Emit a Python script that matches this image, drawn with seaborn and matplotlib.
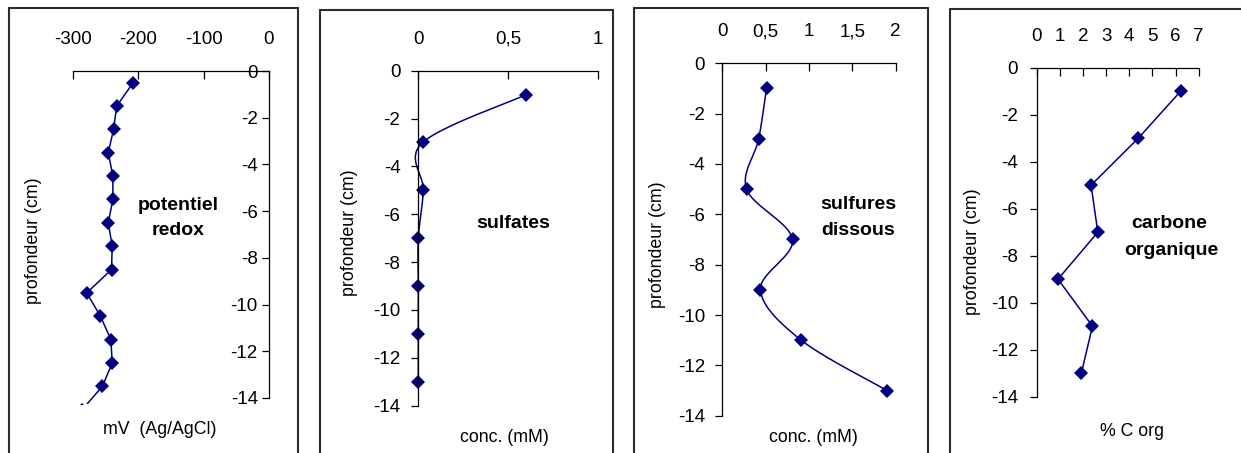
import numpy as np
import matplotlib
matplotlib.use("Agg")
import matplotlib.pyplot as plt
from matplotlib.lines import Line2D
import seaborn as sns

# ---------------- data ----------------
depth_ticks = [0, -2, -4, -6, -8, -10, -12, -14]
depth_ticklabels = ["0", "-2", "-4", "-6", "-8", "-10", "-12", "-14"]

redox_depth = [-0.5, -1.5, -2.5, -3.5, -4.5, -5.5, -6.5, -7.5, -8.5, -9.5, -10.5, -11.5, -12.5, -13.5, -14.5]
redox_mv = [-208, -233, -238, -246, -239, -239, -246, -240, -241, -279, -258, -242, -240, -255, -286]
redox_xticks = [-300, -200, -100, 0]
redox_xticklabels = ["-300", "-200", "-100", "0"]

sulfate_depth = [-1, -3, -5, -7, -9, -11, -13]
sulfate_conc = [0.60, 0.024, 0.028, 0.0, 0.0, 0.0, 0.0]
sulfate_xticks = [0, 0.5, 1]
sulfate_xticklabels = ["0", "0,5", "1"]

sulfide_depth = [-1, -3, -5, -7, -9, -11, -13]
sulfide_conc = [0.51, 0.42, 0.28, 0.81, 0.44, 0.91, 1.90]
sulfide_xticks = [0, 0.5, 1, 1.5, 2]
sulfide_xticklabels = ["0", "0,5", "1", "1,5", "2"]

corg_depth = [-1, -3, -5, -7, -9, -11, -13]
corg_pct = [6.22, 4.39, 2.35, 2.64, 0.92, 2.41, 1.93]
corg_xticks = [0, 1, 2, 3, 4, 5, 6, 7]
corg_xticklabels = ["0", "1", "2", "3", "4", "5", "6", "7"]

# ---------------- style ----------------
sns.set_theme(style="white")
plt.rcParams["font.family"] = ["Liberation Sans", "DejaVu Sans"]
plt.rcParams["axes.unicode_minus"] = False

W, H = 1241, 453
fig = plt.figure(figsize=(W / 100, H / 100), dpi=100)
fig.patch.set_facecolor("white")

NAVY = "#000080"
FS = 13.5
LFS = 12.8


def fx(px):
    return px / W


def fy(py):
    return 1 - py / H


def add_axes(x0, x1, xv0, xv1, y0, y14, ybot):
    """x0/x1: pixel of xlim ends; y0: pixel of depth 0; y14: pixel of depth -14."""
    ppc = (y14 - y0) / 14.0
    ybottom_px = y0 + (-ybot) * ppc
    ax = fig.add_axes([fx(x0), fy(ybottom_px), (x1 - x0) / W, (ybottom_px - y0) / H])
    ax.set_xlim(xv0, xv1)
    ax.set_ylim(ybot, 0)
    return ax


def style_axes(ax, xticks, xticklabels, ypad):
    ax.set_facecolor("none")
    for s in ["bottom", "right"]:
        ax.spines[s].set_visible(False)
    ax.spines["left"].set_position(("data", 0))
    ax.spines["left"].set_bounds(-14, 0)
    for s in ["left", "top"]:
        ax.spines[s].set_visible(True)
        ax.spines[s].set_color("black")
        ax.spines[s].set_linewidth(0.9)
    ax.xaxis.tick_top()
    ax.set_xticks(xticks)
    ax.set_xticklabels(xticklabels)
    ax.set_yticks(depth_ticks)
    ax.set_yticklabels(depth_ticklabels)
    ax.tick_params(axis="x", direction="in", length=5.5, width=0.9, pad=16.5,
                   top=True, bottom=False, labeltop=True, labelbottom=False,
                   labelsize=FS, colors="black")
    ax.tick_params(axis="y", direction="out", length=4.7, width=0.9, pad=ypad,
                   left=True, right=False, labelleft=True, labelright=False,
                   labelsize=FS, colors="black")
    ax.set_xlabel("")
    ax.set_ylabel("")
    ax.grid(False)


def catmull(xs, ys, sx, sy, n=40):
    P = np.column_stack([np.asarray(xs, float) * sx, np.asarray(ys, float) * sy])
    out = []
    for i in range(len(P) - 1):
        p0 = P[i - 1] if i > 0 else P[i]
        p1, p2 = P[i], P[i + 1]
        p3 = P[i + 2] if i + 2 < len(P) else P[i + 1]
        c1 = p1 + (p2 - p0) / 6.0
        c2 = p2 - (p3 - p1) / 6.0
        t = np.linspace(0, 1, n)[:, None]
        seg = (1 - t) ** 3 * p1 + 3 * (1 - t) ** 2 * t * c1 + 3 * (1 - t) * t ** 2 * c2 + t ** 3 * p2
        out.append(seg if i == 0 else seg[1:])
    S = np.vstack(out)
    return S[:, 0] / sx, S[:, 1] / sy


MS = 7.2

# ---------------- panel 1 : redox ----------------
ax1 = add_axes(73, 269, -300, 0, 71, 398, -14.25)
sns.lineplot(x=redox_mv, y=redox_depth, sort=False, estimator=None, ax=ax1,
             color=NAVY, lw=1.1, marker="D", markersize=MS, markeredgewidth=0)
style_axes(ax1, redox_xticks, redox_xticklabels, 3.4)

# ---------------- panel 2 : sulfates ----------------
ax2 = add_axes(418.3, 598.3, 0, 1, 70.7, 405.7, -14)
sx, sy = 180.0, (405.7 - 70.7) / 14
cx, cy = catmull(sulfate_conc, sulfate_depth, sx, sy)
sns.lineplot(x=cx, y=cy, sort=False, estimator=None, ax=ax2, color=NAVY, lw=1.1)
for ln in ax2.lines:
    ln.set_clip_on(False)
ax2.plot(sulfate_conc, sulfate_depth, ls="none", marker="D", ms=MS, mew=0, color=NAVY, clip_on=False)
style_axes(ax2, sulfate_xticks, sulfate_xticklabels, 8.2)

# ---------------- panel 3 : sulfures ----------------
ax3 = add_axes(722.3, 895.7, 0, 2, 63.3, 415.7, -14)
sx, sy = (895.7 - 722.3) / 2, (415.7 - 63.3) / 14
cx, cy = catmull(sulfide_conc, sulfide_depth, sx, sy)
sns.lineplot(x=cx, y=cy, sort=False, estimator=None, ax=ax3, color=NAVY, lw=1.1)
ax3.plot(sulfide_conc, sulfide_depth, ls="none", marker="D", ms=MS, mew=0, color=NAVY, clip_on=False)
style_axes(ax3, sulfide_xticks, sulfide_xticklabels, 7.8)

# ---------------- panel 4 : carbone organique ----------------
ax4 = add_axes(1036.7, 1198.7, 0, 7, 67.7, 396.7, -14)
sns.lineplot(x=corg_pct, y=corg_depth, sort=False, estimator=None, ax=ax4,
             color=NAVY, lw=1.1, marker="D", markersize=MS, markeredgewidth=0)
style_axes(ax4, corg_xticks, corg_xticklabels, 8.8)

# ---------------- labels ----------------
ylab = [(33, 241), (349, 233), (657.5, 245), (972.5, 251.5)]
for (px, py) in ylab:
    fig.text(fx(px), fy(py), "profondeur (cm)", rotation=90, ha="center", va="center",
             fontsize=LFS, color="black")

xlab = [("mV  (Ag/AgCl)", 160, 430), ("conc. (mM)", 504, 437),
        ("conc. (mM)", 813, 437), ("% C org", 1132, 432)]
for (t, px, py) in xlab:
    fig.text(fx(px), fy(py), t, ha="center", va="center", fontsize=LFS, color="black")

notes = [("potentiel", 178, 210), ("redox", 178, 235),
         ("sulfates", 513, 228),
         ("sulfures", 858, 209), ("dissous", 858, 235),
         ("carbone", 1169, 228), ("organique", 1171, 255)]
for (t, px, py) in notes:
    fig.text(fx(px), fy(py), t, ha="center", va="baseline", fontsize=14,
             fontweight="bold", color="black")

# ---------------- panel frames ----------------
FC, FLW = "#2b2b2b", 1.5
frames = [(9.3, 298, 8), (320, 613, 10), (634, 927.7, 8.3), (950, None, 9)]
for (l, r, t) in frames:
    fig.add_artist(Line2D([fx(l), fx(l)], [fy(t), fy(H + 5)], color=FC, lw=FLW))
    rr = r if r is not None else W + 5
    fig.add_artist(Line2D([fx(l), fx(rr)], [fy(t), fy(t)], color=FC, lw=FLW))
    if r is not None:
        fig.add_artist(Line2D([fx(r), fx(r)], [fy(t), fy(H + 5)], color=FC, lw=FLW))

fig.savefig("out.png", dpi=100, facecolor="white")
